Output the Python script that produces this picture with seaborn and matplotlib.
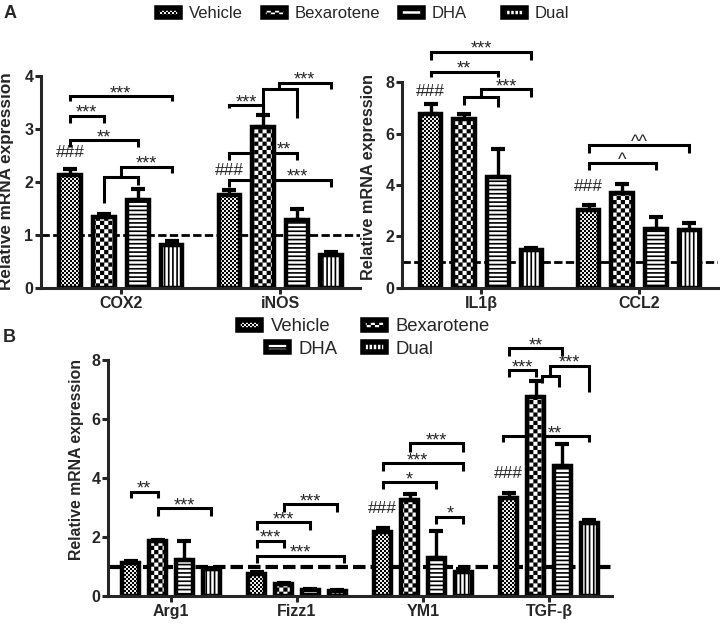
import numpy as np
import pandas as pd
import matplotlib
matplotlib.use("Agg")
import matplotlib.pyplot as plt
import matplotlib.patches as mpatches
import matplotlib.hatch as mhatch
from matplotlib.path import Path
import seaborn as sns

# ---------------- data ----------------
groups = ["Vehicle", "Bexarotene", "DHA", "Dual"]

# Panel A, left
genes_a1 = ["COX2", "iNOS"]
a1_vehicle = [2.14, 1.75]
a1_bexarotene = [1.34, 3.03]
a1_dha = [1.66, 1.29]
a1_dual = [0.81, 0.62]
a1_vehicle_err = [0.11, 0.10]
a1_bexarotene_err = [0.06, 0.23]
a1_dha_err = [0.21, 0.20]
a1_dual_err = [0.08, 0.05]

# Panel A, right
genes_a2 = ["IL1β", "CCL2"]
a2_vehicle = [6.76, 3.03]
a2_bexarotene = [6.57, 3.68]
a2_dha = [4.30, 2.30]
a2_dual = [1.46, 2.26]
a2_vehicle_err = [0.40, 0.18]
a2_bexarotene_err = [0.20, 0.37]
a2_dha_err = [1.11, 0.46]
a2_dual_err = [0.08, 0.28]

# Panel B
genes_b = ["Arg1", "Fizz1", "YM1", "TGF-β"]
b_vehicle = [1.12, 0.75, 2.16, 3.32]
b_bexarotene = [1.85, 0.41, 3.24, 6.74]
b_dha = [1.22, 0.19, 1.28, 4.42]
b_dual = [0.90, 0.16, 0.81, 2.47]
b_vehicle_err = [0.05, 0.05, 0.15, 0.17]
b_bexarotene_err = [0.06, 0.04, 0.23, 0.54]
b_dha_err = [0.63, 0.04, 0.92, 0.74]
b_dual_err = [0.05, 0.03, 0.11, 0.10]

# significance brackets: (gene idx, left hue, right hue, top y, left foot, right foot, label, label hue pos)
a1_brackets = [
    (0, 0, 3, 3.62, 3.52, 3.52, "***", None),
    (0, 0, 1, 3.25, 3.12, 3.12, "***", None),
    (0, 0, 2, 2.79, 2.66, 2.66, "**", None),
    (0, 1, 2, 2.10, 1.60, 1.94, "", None),
    (0, 1.5, 3, 2.29, 2.10, 2.17, "***", None),
    (1, 0, 1, 3.45, 3.40, 3.30, "***", None),
    (1, 1, 2, 3.75, 3.30, 3.21, "", None),
    (1, 1.45, 3, 3.87, 3.75, 3.75, "***", None),
    (1, 0, 2, 2.55, 2.42, 2.42, "**", 1.6),
    (1, 0, 3, 2.04, 1.91, 1.91, "***", 2.0),
]
a2_brackets = [
    (0, 0, 3, 9.18, 8.85, 8.85, "***", None),
    (0, 0, 2, 8.40, 8.21, 8.21, "**", None),
    (0, 1, 2, 7.43, 7.11, 7.04, "", None),
    (0, 1.5, 3, 7.72, 7.43, 7.43, "***", None),
    (1, 0, 3, 5.55, 5.23, 5.23, "^^", None),
    (1, 0, 2, 4.84, 4.58, 4.58, "^", None),
]
b_brackets = [
    (0, 0, 1, 3.54, 3.31, 3.31, "**", None),
    (0, 1, 3, 2.97, 2.71, 2.71, "***", None),
    (1, 1, 3, 3.12, 2.86, 2.86, "***", None),
    (1, 0, 2, 2.50, 2.24, 2.24, "***", None),
    (1, 0, 1, 1.87, 1.62, 1.62, "***", None),
    (1, 0, 3.25, 1.37, 1.12, 1.12, "***", None),
    (2, 1, 3, 5.18, 4.89, 4.89, "***", None),
    (2, 0, 3, 4.50, 4.25, 4.25, "***", 1.3),
    (2, 0, 2, 3.85, 3.62, 3.62, "*", None),
    (2, 2, 3, 2.69, 2.43, 2.43, "*", None),
    (3, 0, 2, 8.40, 8.14, 8.14, "**", None),
    (3, 0, 1, 7.66, 7.43, 7.43, "***", None),
    (3, 1.24, 1.87, 7.46, 7.22, 7.09, "", None),
    (3, 1.555, 3, 7.80, 7.46, 6.93, "***", None),
    (3, -0.2, 3, 5.42, 5.23, 5.23, "**", 1.7),
]
# "###" markers: (gene idx, y)
a1_hash = [(0, 2.55), (1, 2.22)]
a2_hash = [(0, 7.65), (1, 3.96)]
b_hash = [(2, 2.98), (3, 4.14)]


# ---------------- custom checker hatches ----------------
class FineChecker(mhatch.HatchPatternBase):
    symbol = "o"
    per_symbol = 10

    def __init__(self, hatch, density):
        self.n = int(hatch.count(self.symbol) * self.per_symbol)
        self.cells = [(i, j) for i in range(self.n) for j in range(self.n)
                      if (i + j) % 2 == 0]
        self.num_vertices = 5 * len(self.cells)

    def set_vertices_and_codes(self, vertices, codes):
        s = 1.0 / self.n
        for k, (i, j) in enumerate(self.cells):
            x0, y0 = i * s, j * s
            vertices[5 * k:5 * k + 5] = [(x0, y0), (x0 + s, y0), (x0 + s, y0 + s),
                                         (x0, y0 + s), (x0, y0)]
            codes[5 * k:5 * k + 5] = [Path.MOVETO, Path.LINETO, Path.LINETO,
                                      Path.LINETO, Path.CLOSEPOLY]


class CoarseChecker(FineChecker):
    symbol = "O"
    per_symbol = 6


mhatch._hatch_types = [t for t in mhatch._hatch_types
                       if t not in (mhatch.SmallCircles, mhatch.LargeCircles)] + \
                      [FineChecker, CoarseChecker]

hatches = ["ooooo", "OOOO", "----", "||||"]
hatch_lws = [0.05, 0.05, 1.2, 1.2]

# ---------------- style ----------------
sns.set_style("ticks")
plt.rcParams["font.family"] = ["Liberation Sans", "DejaVu Sans"]
plt.rcParams["hatch.linewidth"] = 1.2

W, H = 720, 627
fig = plt.figure(figsize=(7.2, 6.27), dpi=100)

BAR_LW = 3.2


def set_hlw(p, lw):
    if hasattr(p, "set_hatch_linewidth"):
        p.set_hatch_linewidth(lw)


def long_df(genes, series):
    rows = []
    for grp, vals in zip(groups, series):
        for g, v in zip(genes, vals):
            rows.append({"gene": g, "group": grp, "value": v})
    return pd.DataFrame(rows)


def draw_panel(rect, genes, means, errs, ymax, yticks, brackets, hashes,
               ylabel_fs, label_xy, dash_lw):
    ax = fig.add_axes(rect)
    df = long_df(genes, means)
    sns.barplot(data=df, x="gene", y="value", hue="group", order=genes,
                hue_order=groups, palette=["white"] * 4, saturation=1,
                edgecolor="black", linewidth=BAR_LW, errorbar=None,
                width=0.85, gap=0.36, legend=False, ax=ax, zorder=1)
    centers = {}
    for h, cont in enumerate(ax.containers):
        for bar in cont.patches:
            bar.set_hatch(hatches[h])
            set_hlw(bar, hatch_lws[h])
            cx = bar.get_x() + bar.get_width() / 2
            gi = int(round(cx))
            centers[(gi, h)] = cx
    step = centers[(0, 1)] - centers[(0, 0)]

    xs, ys, es = [], [], []
    for h, err in enumerate(errs):
        for gi, e in enumerate(err):
            xs.append(centers[(gi, h)])
            ys.append(means[h][gi])
            es.append(e)
    ax.errorbar(xs, ys, yerr=[np.zeros(len(es)), es], fmt="none", ecolor="black",
                elinewidth=2.4, capsize=5, capthick=3, zorder=2)

    ax.axhline(1, color="black", lw=dash_lw, dashes=(3, 1.2), zorder=0.6)

    def hx(gi, h):
        return gi + (h - 1.5) * step

    for gi, hl, hr, ytop, ylb, yrb, lab, lpos in brackets:
        xl, xr = hx(gi, hl), hx(gi, hr)
        ax.plot([xl, xl, xr, xr], [ylb, ytop, ytop, yrb], color="black", lw=2.2,
                solid_joinstyle="miter", solid_capstyle="butt", clip_on=False,
                zorder=0.5)
        if lab:
            tx = hx(gi, lpos) if lpos is not None else (xl + xr) / 2
            ax.annotate(lab, (tx, ytop), xytext=(0, -1.5), textcoords="offset points",
                        ha="center", va="baseline", fontsize=13,
                        annotation_clip=False, zorder=3)
    for gi, y in hashes:
        ax.text(hx(gi, 0), y, "###", ha="center", va="center", fontsize=12.5,
                zorder=3, clip_on=False)

    ax.set_xlim(-0.5, len(genes) - 0.5)
    ax.set_ylim(0, ymax)
    ax.set_yticks(yticks)
    ax.set_xlabel("")
    ax.set_ylabel("Relative mRNA expression", fontsize=ylabel_fs, fontweight="bold")
    ax.yaxis.set_label_coords(*label_xy)
    sns.despine(ax=ax)
    for s in ("left", "bottom"):
        ax.spines[s].set_linewidth(2.2)
    ax.tick_params(width=2.2, length=4, labelsize=11.5, pad=1.5)
    for lbl in ax.get_xticklabels() + ax.get_yticklabels():
        lbl.set_fontweight("bold")
    return ax


draw_panel([41 / W, 1 - 288 / H, 319 / W, 212 / H], genes_a1,
           [a1_vehicle, a1_bexarotene, a1_dha, a1_dual],
           [a1_vehicle_err, a1_bexarotene_err, a1_dha_err, a1_dual_err],
           4, [0, 1, 2, 3, 4], a1_brackets, a1_hash, 12.3, (-0.085, 0.505), 2.0)

draw_panel([402 / W, 1 - 288 / H, 316 / W, 206 / H], genes_a2,
           [a2_vehicle, a2_bexarotene, a2_dha, a2_dual],
           [a2_vehicle_err, a2_bexarotene_err, a2_dha_err, a2_dual_err],
           8, [0, 2, 4, 6, 8], a2_brackets, a2_hash, 11.7, (-0.082, 0.541), 2.0)

draw_panel([108 / W, 1 - 596 / H, 504 / W, 236 / H], genes_b,
           [b_vehicle, b_bexarotene, b_dha, b_dual],
           [b_vehicle_err, b_bexarotene_err, b_dha_err, b_dual_err],
           8, [0, 2, 4, 6, 8], b_brackets, b_hash, 11.4, (-0.048, 0.58), 3.0)


# ---------------- legends ----------------
def add_entry(label, idx, x_px, y_px, fs, hl, hh):
    p = mpatches.Patch(facecolor="white", edgecolor="black", linewidth=4.0,
                       hatch=hatches[idx])
    set_hlw(p, hatch_lws[idx])
    leg = fig.legend(handles=[p], labels=[label], loc="center left",
                     bbox_to_anchor=((x_px + 3) / W, 1 - y_px / H), frameon=False,
                     fontsize=fs, handlelength=hl, handleheight=hh,
                     handletextpad=0.55, borderpad=0, borderaxespad=0)
    for hp in leg.get_patches():
        set_hlw(hp, hatch_lws[idx])


for i, xp in enumerate([154, 260, 397, 500]):
    add_entry(groups[i], i, xp, 14, 12, 1.35, 0.45)

add_entry(groups[0], 0, 235, 327, 13.3, 1.22, 0.4)
add_entry(groups[1], 1, 360, 327, 13.3, 1.22, 0.4)
add_entry(groups[2], 2, 263, 349, 13.3, 1.22, 0.4)
add_entry(groups[3], 3, 360, 349, 13.3, 1.22, 0.4)

fig.text(4 / W, 1 - 13 / H, "A", fontsize=13, fontweight="bold", va="center", ha="left")
fig.text(3 / W, 1 - 337 / H, "B", fontsize=13, fontweight="bold", va="center", ha="left")

fig.savefig("out.png", dpi=100)
